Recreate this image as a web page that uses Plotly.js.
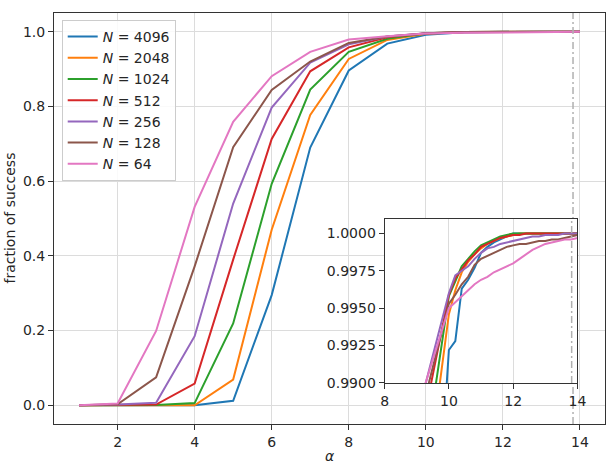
<!DOCTYPE html>
<html>
<head>
<meta charset="utf-8">
<script src="https://cdn.plot.ly/plotly-3.0.1.min.js"></script>
<style>
  html, body { margin: 0; padding: 0; background: #ffffff; }
  #chart { width: 606px; height: 465px; }
</style>
</head>
<body>
<div id="chart"></div>
<script>
// Load parameter alpha (main panel, one run per integer value)
const alpha = [1, 2, 3, 4, 5, 6, 7, 8, 9, 10, 11, 12, 13, 14];

// System sizes, largest first
const systemSizes = [4096, 2048, 1024, 512, 256, 128, 64];

// Fraction of successful runs at each alpha
const success4096 = [0, 0, 0, 0, 0.012, 0.295, 0.69, 0.896, 0.968, 0.992, 0.9988, 1.0, 1.0, 1.0];
const success2048 = [0, 0, 0, 0, 0.069, 0.47, 0.777, 0.927, 0.978, 0.9946, 0.999, 0.9999, 1.0, 1.0];
const success1024 = [0, 0, 0.001, 0.006, 0.219, 0.593, 0.845, 0.946, 0.981, 0.9958, 0.9992, 1.0, 1.0, 1.0];
const success512  = [0, 0, 0.002, 0.058, 0.39, 0.713, 0.894, 0.958, 0.985, 0.9959, 0.9991, 0.9999, 1.0, 1.0];
const success256  = [0, 0.002, 0.007, 0.185, 0.54, 0.797, 0.917, 0.966, 0.987, 0.996, 0.9987, 0.9995, 0.9999, 1.0];
const success128  = [0, 0.003, 0.075, 0.372, 0.691, 0.844, 0.92, 0.97, 0.987, 0.9953, 0.9983, 0.9992, 0.9995, 0.9999];
const success64   = [0, 0.005, 0.199, 0.531, 0.759, 0.881, 0.946, 0.979, 0.988, 0.995, 0.9969, 0.998, 0.9993, 0.9997];

// Finer sweep near full success (inset)
const insetAlpha = [9.0, 9.2, 9.4, 9.6, 9.8, 10.0, 10.2, 10.4, 10.6, 10.8, 11.0, 11.2, 11.4,
                    11.6, 11.8, 12.0, 12.2, 12.4, 12.6, 12.8, 13.0, 13.2, 13.4, 13.6, 13.8, 14.0];
const fine4096 = [0.968, 0.973, 0.978, 0.982, 0.9855, 0.9922, 0.9928, 0.9963, 0.9969, 0.9977, 0.9987, 0.9991, 0.9994,
                  0.9996, 0.9998, 1.0, 1.0, 1.0, 1.0, 1.0, 1.0, 1.0, 1.0, 1.0, 1.0, 1.0];
const fine2048 = [0.9782, 0.9815, 0.9847, 0.9880, 0.9913, 0.9946, 0.9962, 0.9974, 0.9981, 0.9986, 0.9990, 0.9993, 0.9995,
                  0.9997, 0.9998, 0.9999, 1.0, 1.0, 1.0, 1.0, 1.0, 1.0, 1.0, 1.0, 1.0, 1.0];
const fine1024 = [0.9813, 0.9842, 0.9871, 0.9900, 0.9929, 0.9958, 0.9968, 0.9978, 0.9983, 0.9988, 0.9992, 0.9994, 0.9996,
                  0.9998, 0.9999, 1.0, 1.0, 1.0, 1.0, 1.0, 1.0, 1.0, 1.0, 1.0, 1.0, 1.0];
const fine512  = [0.9852, 0.9873, 0.9895, 0.9916, 0.9937, 0.9959, 0.9970, 0.9976, 0.9982, 0.9986, 0.9991, 0.9993, 0.9995,
                  0.9997, 0.9998, 0.9999, 0.9999, 1.0, 1.0, 1.0, 1.0, 1.0, 1.0, 1.0, 1.0, 1.0];
const fine256  = [0.9870, 0.9893, 0.9910, 0.9927, 0.9943, 0.9960, 0.9972, 0.9975, 0.9978, 0.9983, 0.9987, 0.9990, 0.9991,
                  0.9993, 0.9994, 0.9995, 0.9996, 0.9997, 0.9998, 0.9998, 0.9999, 0.9999, 0.9999, 1.0, 1.0, 1.0];
const fine128  = [0.9868, 0.9885, 0.9902, 0.9919, 0.9936, 0.9953, 0.9959, 0.9966, 0.9971, 0.9979, 0.9983, 0.9985, 0.9987,
                  0.9989, 0.9991, 0.9992, 0.9993, 0.9993, 0.9994, 0.9995, 0.9995, 0.9996, 0.9996, 0.9997, 0.9998, 0.9999];
const fine64   = [0.9881, 0.9895, 0.9909, 0.9923, 0.9936, 0.9950, 0.9954, 0.9958, 0.9962, 0.9966, 0.9969, 0.9971, 0.9974,
                  0.9976, 0.9978, 0.9980, 0.9983, 0.9986, 0.9989, 0.9991, 0.9993, 0.9994, 0.9995, 0.9996, 0.9996, 0.9997];

// Critical load marked by the dash-dot line
const alphaCritical = 13.82;

// Tick labels
const mainXTicks = [2, 4, 6, 8, 10, 12, 14];
const mainYTicks = [0.0, 0.2, 0.4, 0.6, 0.8, 1.0];
const insetXTicks = [8, 10, 12, 14];
const insetYTicks = [0.99, 0.9925, 0.995, 0.9975, 1.0];

// Axis extents
const mainXRange = [0.35, 14.65];
const mainYRange = [-0.05, 1.05];
const insetXRange = [8, 14];
const insetYRange = [0.99, 1.001];

const palette = ['#1f77b4', '#ff7f0e', '#2ca02c', '#d62728', '#9467bd', '#8c564b', '#e377c2'];
const mainSeries = [success4096, success2048, success1024, success512, success256, success128, success64];
const fineSeries = [fine4096, fine2048, fine1024, fine512, fine256, fine128, fine64];

const FONT = 'DejaVu Sans, Verdana, sans-serif';
const INK = '#262626';
const GRID = '#dcdcdc';
const FRAME = '#333333';
const MARKER_LINE = { color: '#b0b0b0', width: 1.5, dash: '7px,3px,2px,3px' };

const traces = [];
systemSizes.forEach((n, i) => {
  traces.push({
    x: alpha, y: mainSeries[i], xaxis: 'x', yaxis: 'y',
    type: 'scatter', mode: 'lines',
    name: '<i>N</i> = ' + n,
    line: { color: palette[i], width: 2 },
    hoverinfo: 'skip'
  });
});
traces.push({
  x: [alphaCritical, alphaCritical], y: mainYRange, xaxis: 'x', yaxis: 'y',
  type: 'scatter', mode: 'lines', showlegend: false, hoverinfo: 'skip',
  line: MARKER_LINE
});
systemSizes.forEach((n, i) => {
  traces.push({
    x: insetAlpha, y: fineSeries[i], xaxis: 'x2', yaxis: 'y2',
    type: 'scatter', mode: 'lines', showlegend: false, hoverinfo: 'skip',
    line: { color: palette[i], width: 2 }
  });
});
traces.push({
  x: [alphaCritical, alphaCritical], y: insetYRange, xaxis: 'x2', yaxis: 'y2',
  type: 'scatter', mode: 'lines', showlegend: false, hoverinfo: 'skip',
  line: MARKER_LINE
});

const axisCommon = {
  showline: true, mirror: true, linecolor: FRAME, linewidth: 1,
  ticks: 'outside', ticklen: 5, tickwidth: 1, tickcolor: FRAME,
  gridcolor: GRID, gridwidth: 1, zeroline: false,
  tickfont: { family: FONT, size: 14, color: INK }
};

const layout = {
  width: 606, height: 465,
  margin: { l: 54, r: 1, t: 13, b: 41 },
  paper_bgcolor: '#ffffff', plot_bgcolor: '#ffffff',
  font: { family: FONT, size: 14, color: INK },
  showlegend: true,
  legend: {
    x: 0.014, y: 0.983, xanchor: 'left', yanchor: 'top',
    bgcolor: 'rgba(255,255,255,0.85)', bordercolor: '#cccccc', borderwidth: 1,
    entrywidth: 118, entrywidthmode: 'pixels', tracegroupgap: 0,
    font: { family: FONT, size: 14, color: INK }
  },
  xaxis: Object.assign({}, axisCommon, {
    domain: [0, 1], range: mainXRange, tickvals: mainXTicks, anchor: 'y'
  }),
  yaxis: Object.assign({}, axisCommon, {
    domain: [0, 1], range: mainYRange, tickvals: mainYTicks, tickformat: '.1f', anchor: 'x'
  }),
  xaxis2: Object.assign({}, axisCommon, {
    domain: [0.6, 0.95], range: insetXRange, tickvals: insetXTicks, anchor: 'y2'
  }),
  yaxis2: Object.assign({}, axisCommon, {
    domain: [0.1, 0.5], range: insetYRange, tickvals: insetYTicks, tickformat: '.4f',
    showgrid: false, anchor: 'x2'
  }),
  shapes: [{
    type: 'line', xref: 'x2 domain', yref: 'y2', x0: 0, x1: 1, y0: 1.0, y1: 1.0,
    line: { color: GRID, width: 1 }, layer: 'below'
  }],
  annotations: [
    {
      text: 'fraction of success', xref: 'paper', yref: 'paper', x: 0, y: 0.5,
      xanchor: 'center', yanchor: 'middle', xshift: -45, textangle: -90,
      showarrow: false, font: { family: FONT, size: 14, color: INK }
    },
    {
      text: '<i>α</i>', xref: 'paper', yref: 'paper', x: 0.5, y: 0,
      xanchor: 'center', yanchor: 'top', yshift: -22,
      showarrow: false, font: { family: FONT, size: 14, color: INK }
    }
  ]
};

Plotly.newPlot('chart', traces, layout, { staticPlot: true, displayModeBar: false });
</script>
</body>
</html>
